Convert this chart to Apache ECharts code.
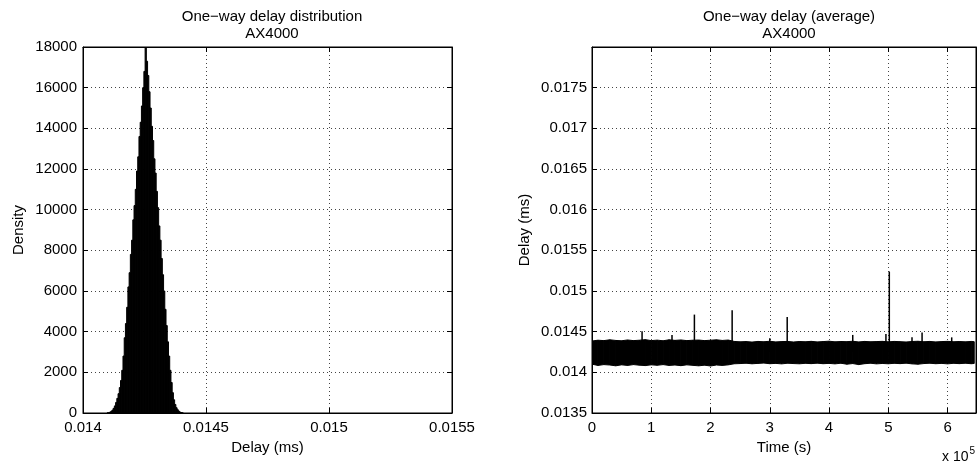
<!DOCTYPE html>
<html><head><meta charset="utf-8">
<script src="https://cdn.jsdelivr.net/npm/echarts@6/dist/echarts.min.js"></script>
<style>html,body{margin:0;padding:0;background:#fff}#c{width:977px;height:466px}</style>
</head><body><div id="c"></div>
<script>
// ---- Left panel: histogram of one-way delay (ms) ----
const histCenters = [
  0.014100,0.014105,0.014110,0.014115,0.014120,0.014125,0.014130,0.014135,0.014140,0.014145,
  0.014150,0.014155,0.014160,0.014165,0.014170,0.014175,0.014180,0.014185,0.014190,0.014195,
  0.014200,0.014205,0.014210,0.014215,0.014220,0.014225,0.014230,0.014235,0.014240,0.014245,
  0.014250,0.014255,0.014260,0.014265,0.014270,0.014275,0.014280,0.014285,0.014290,0.014295,
  0.014300,0.014305,0.014310,0.014315,0.014320,0.014325,0.014330,0.014335,0.014340,0.014345,
  0.014350,0.014355,0.014360,0.014365,0.014370,0.014375,0.014380,0.014385,0.014390,0.014395,
  0.014400,0.014405
];
const histDensity = [
  5,15,40,80,140,230,350,520,720,950,
  1250,1600,2100,2800,3700,4400,5200,6200,6900,7800,
  8500,9500,10200,11000,11900,12600,13600,14300,15100,16000,
  16800,18000,17300,16600,15800,15000,14100,13400,12500,11800,
  10900,10100,9200,8500,7600,6800,6000,5100,4300,3500,
  2800,2100,1500,1000,650,420,260,160,90,45,
  20,5
];
const histBinWidth = 0.000005;

// ---- Right panel: one-way delay over time (envelope of the dense trace) ----
const timeSamples = [
  0,10000,20000,30000,40000,50000,60000,70000,80000,90000,
  100000,110000,120000,130000,140000,150000,160000,170000,180000,190000,
  200000,210000,220000,230000,240000,250000,260000,270000,280000,290000,
  300000,310000,320000,330000,340000,350000,360000,370000,380000,390000,
  400000,410000,420000,430000,440000,450000,460000,470000,480000,490000,
  500000,510000,520000,530000,540000,550000,560000,570000,580000,590000,
  600000,610000,620000,630000,640000,645000
];
const delayUpper = [
  0.014385,0.014395,0.014390,0.014400,0.014392,0.014388,0.014398,0.014390,0.014395,0.014402,
  0.014390,0.014396,0.014388,0.014400,0.014393,0.014398,0.014390,0.014395,0.014397,0.014390,
  0.014395,0.014400,0.014392,0.014397,0.014380,0.014375,0.014378,0.014372,0.014380,0.014376,
  0.014382,0.014374,0.014378,0.014380,0.014373,0.014379,0.014376,0.014381,0.014374,0.014378,
  0.014383,0.014375,0.014379,0.014377,0.014382,0.014374,0.014380,0.014376,0.014378,0.014381,
  0.014375,0.014380,0.014377,0.014373,0.014379,0.014382,0.014376,0.014380,0.014374,0.014378,
  0.014381,0.014376,0.014379,0.014375,0.014380,0.014377
];
const delayLower = [
  0.014100,0.014085,0.014095,0.014090,0.014080,0.014092,0.014085,0.014095,0.014088,0.014083,
  0.014092,0.014087,0.014095,0.014085,0.014090,0.014082,0.014092,0.014086,0.014080,0.014088,
  0.014078,0.014090,0.014085,0.014092,0.014105,0.014108,0.014112,0.014105,0.014110,0.014114,
  0.014106,0.014110,0.014104,0.014112,0.014108,0.014105,0.014111,0.014107,0.014113,0.014106,
  0.014110,0.014104,0.014112,0.014100,0.014108,0.014095,0.014106,0.014112,0.014104,0.014109,
  0.014105,0.014111,0.014107,0.014113,0.014104,0.014100,0.014108,0.014112,0.014106,0.014110,
  0.014104,0.014111,0.014107,0.014112,0.014106,0.014109
];
const spikeTimes = [84500,135000,172800,236500,300000,329400,440000,496000,501700,540000,557000,607000];
const spikeTops  = [0.014506,0.014460,0.014710,0.014763,0.014420,0.014680,0.014460,0.014470,0.015240,0.014430,0.014490,0.014430];
const spikeBase = 0.01425;

const FONT = '"Liberation Sans", Arial, Helvetica, sans-serif';
const FS = 15;
const fmtNum = v => String(parseFloat(v.toFixed(6)));
const gridLine = () => ({show:true, lineStyle:{color:'#444', type:[1,3], width:1}});
const axLine = () => ({show:true, onZero:false, lineStyle:{color:'#000', width:1}});
const tick = () => ({show:true, inside:true, length:5, lineStyle:{color:'#000'}});
const lbl = () => ({color:'#000', fontSize:FS, fontFamily:FONT});

function mirror(gridIndex, pos, min, max, interval){
  return {type:'value', gridIndex, position:pos, min, max, interval,
    axisLine:axLine(), axisTick:tick(), axisLabel:{show:false}, splitLine:{show:false}};
}

// segments of the band (each joins sample i to sample i+1)
const bandSegments = timeSamples.slice(0, -1).map((t, i) =>
  [t, delayLower[i], delayUpper[i], timeSamples[i+1], delayLower[i+1], delayUpper[i+1]]);

const chart = echarts.init(document.getElementById('c'), null, {renderer:'canvas'});
chart.setOption({
  animation:false,
  backgroundColor:'#fff',
  textStyle:{fontFamily:FONT},
  title:[
    {text:'One\u2212way delay distribution\nAX4000', left:267, top:3, textAlign:'center',
     textStyle:{fontSize:FS, fontWeight:'normal', color:'#000', lineHeight:17, fontFamily:FONT}},
    {text:'One\u2212way delay (average)\nAX4000', left:784, top:3, textAlign:'center',
     textStyle:{fontSize:FS, fontWeight:'normal', color:'#000', lineHeight:17, fontFamily:FONT}}
  ],
  grid:[
    {left:83, top:47, width:369, height:366, show:true, borderColor:'#000', borderWidth:1, backgroundColor:'transparent'},
    {left:592, top:47, width:384, height:366, show:true, borderColor:'#000', borderWidth:1, backgroundColor:'transparent'}
  ],
  xAxis:[
    {type:'value', gridIndex:0, position:'bottom', min:0.014, max:0.0155, interval:0.0005,
     name:'Delay (ms)', nameLocation:'middle', nameGap:27, nameTextStyle:lbl(),
     axisLine:axLine(), axisTick:tick(), splitLine:gridLine(),
     axisLabel:Object.assign({margin:7, formatter:fmtNum, showMinLabel:true, showMaxLabel:true}, lbl())},
    {type:'value', gridIndex:1, position:'bottom', min:0, max:648000, interval:100000,
     name:'Time (s)', nameLocation:'middle', nameGap:27, nameTextStyle:lbl(),
     axisLine:axLine(), axisTick:tick(), splitLine:gridLine(),
     axisLabel:Object.assign({margin:7, formatter:v => String(Math.round(v/100000)), showMaxLabel:false}, lbl())},
    mirror(0,'top',0.014,0.0155,0.0005),
    mirror(1,'top',0,648000,100000)
  ],
  yAxis:[
    {type:'value', gridIndex:0, position:'left', min:0, max:18000, interval:2000,
     name:'Density', nameLocation:'middle', nameGap:57, nameTextStyle:lbl(),
     axisLine:axLine(), axisTick:tick(), splitLine:gridLine(),
     axisLabel:Object.assign({margin:6, formatter:v => String(v)}, lbl())},
    {type:'value', gridIndex:1, position:'left', min:0.0135, max:0.018, interval:0.0005,
     name:'Delay (ms)', nameLocation:'middle', nameGap:60, nameTextStyle:lbl(),
     axisLine:axLine(), axisTick:tick(), splitLine:gridLine(),
     axisLabel:Object.assign({margin:5, formatter:fmtNum, showMaxLabel:false}, lbl())},
    mirror(0,'right',0,18000,2000),
    mirror(1,'right',0.0135,0.018,0.0005)
  ],
  graphic:[
    {type:'text', left:942, top:446, silent:true,
     style:{text:'{a|x 10}{b|5}', rich:{a:{fontSize:14, fontFamily:FONT, fill:'#000', verticalAlign:'bottom'},
       b:{fontSize:10, fontFamily:FONT, fill:'#000', verticalAlign:'top', padding:[0,0,8,1]}}}}
  ],
  series:[
    {type:'custom', xAxisIndex:0, yAxisIndex:0, clip:true,
     data: histCenters.map((c,i)=>[c, histDensity[i]]),
     encode:{x:0, y:1},
     renderItem(params, api){
       const c = api.value(0), d = api.value(1);
       const p0 = api.coord([c - histBinWidth/2, d]);
       const p1 = api.coord([c + histBinWidth/2, 0]);
       return {type:'rect', shape:{x:p0[0], y:p0[1], width:p1[0]-p0[0], height:p1[1]-p0[1]},
               style:{fill:'#000', stroke:'#000', lineWidth:1}};
     }},
    {type:'custom', xAxisIndex:1, yAxisIndex:1, clip:true,
     data: bandSegments,
     encode:{x:[0,3], y:[1,2,4,5]},
     renderItem(params, api){
       const pts = [
         api.coord([api.value(0), api.value(1)]),
         api.coord([api.value(3), api.value(4)]),
         api.coord([api.value(3), api.value(5)]),
         api.coord([api.value(0), api.value(2)])
       ];
       return {type:'polygon', shape:{points:pts}, style:{fill:'#000', stroke:'#000', lineWidth:1}};
     }},
    {type:'custom', xAxisIndex:1, yAxisIndex:1, clip:true,
     data: spikeTimes.map((t,i)=>[t, spikeTops[i]]),
     encode:{x:0, y:1},
     renderItem(params, api){
       const a = api.coord([api.value(0), spikeBase]);
       const b = api.coord([api.value(0), api.value(1)]);
       return {type:'line', shape:{x1:a[0], y1:a[1], x2:b[0], y2:b[1]},
               style:{stroke:'#000', lineWidth:1.5}};
     }}
  ]
});
</script></body></html>
